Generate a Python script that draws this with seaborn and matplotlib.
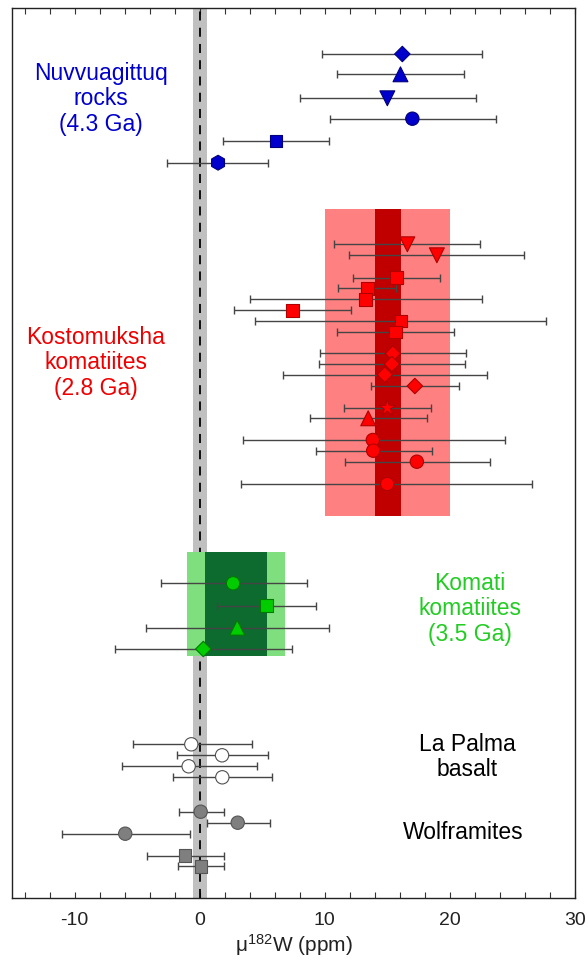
import matplotlib
matplotlib.use("Agg")
import matplotlib.pyplot as plt
from matplotlib.ticker import MultipleLocator
import numpy as np
import pandas as pd
import seaborn as sns

# ---------------- data ----------------
nuv_val = [16.2, 16.05, 15.0, 17.0, 6.1, 1.47]
nuv_lo = [9.8, 11.0, 8.0, 10.45, 1.9, -2.6]
nuv_hi = [22.6, 21.1, 22.1, 23.7, 10.35, 5.5]
nuv_shape = ["diamond", "tri_up", "tri_down", "circle", "square", "hexagon"]
nuv_row = [54, 74.3, 98.3, 118.7, 141, 162.7]

kos_val = [16.6, 18.96, 15.76, 13.4, 13.28, 7.4, 16.1, 15.68, 15.44, 15.36,
           14.8, 17.2, 15.0, 13.47, 13.84, 13.87, 17.36, 14.99]
kos_lo = [10.75, 11.95, 12.24, 11.07, 4.03, 2.77, 4.45, 11.0, 9.65, 9.57,
          6.7, 13.73, 11.55, 8.85, 3.47, 9.31, 11.63, 3.33]
kos_hi = [22.4, 25.9, 19.2, 15.7, 22.6, 12.08, 27.7, 20.3, 21.26, 21.2,
          22.96, 20.69, 18.5, 18.16, 24.37, 18.6, 23.23, 26.6]
kos_shape = ["tri_down", "tri_down", "square", "square", "square", "square",
             "square", "square", "diamond", "diamond", "diamond", "diamond",
             "star", "tri_up", "circle", "circle", "circle", "circle"]
kos_row = [244.3, 255.3, 277.7, 288.3, 299.3, 310.3, 321, 332, 353.5, 364,
           374.7, 386, 408, 418.3, 440, 450.7, 461.7, 484]
kos_band_outer = (10.0, 20.0)
kos_band_inner = (14.0, 16.1)
kos_band_rows = (209, 516)

kom_val = [2.67, 5.33, 3.0, 0.29]
kom_lo = [-3.07, 1.39, -4.27, -6.77]
kom_hi = [8.56, 9.33, 10.32, 7.39]
kom_shape = ["circle", "square", "tri_up", "diamond"]
kom_row = [583.3, 605.7, 627.7, 649]
kom_band_outer = (-1.0, 6.85)
kom_band_inner = (0.45, 5.4)
kom_band_rows = (552, 656)

lap_val = [-0.67, 1.79, -0.88, 1.81]
lap_lo = [-5.33, -1.84, -6.24, -2.1]
lap_hi = [4.16, 5.47, 4.56, 5.81]
lap_shape = ["circle", "circle", "circle", "circle"]
lap_row = [744.3, 755.3, 766.3, 777.3]

wol_val = [0.08, 3.04, -5.95, -1.17, 0.11]
wol_lo = [-1.68, 0.59, -11.0, -4.24, -1.76]
wol_hi = [1.95, 5.6, -0.77, 1.92, 1.92]
wol_shape = ["circle", "circle", "circle", "square", "square"]
wol_row = [811.7, 822.7, 833.7, 855.7, 866.3]

ref_band = (-0.5, 0.55)

xticks = [-10, 0, 10, 20, 30]
xlabel = r"μ$^{182}$W (ppm)"

# ---------------- style ----------------
sns.set_style("white")
plt.rcParams["font.family"] = ["Liberation Sans", "DejaVu Sans"]
plt.rcParams["mathtext.fontset"] = "custom"
plt.rcParams["mathtext.rm"] = "Liberation Sans"
plt.rcParams["mathtext.it"] = "Liberation Sans:italic"
plt.rcParams["axes.unicode_minus"] = False

marker_map = {"circle": "o", "square": "s", "diamond": "D", "tri_up": "^",
              "tri_down": "v", "star": "*", "hexagon": "h"}
size_map = {"circle": 92, "square": 84, "diamond": 62, "tri_up": 115,
            "tri_down": 115, "star": 150, "hexagon": 115}

fig = plt.figure(figsize=(5.88, 9.64), dpi=100)
ax = fig.add_axes([12 / 588, 1 - 898 / 964, (575 - 12) / 588, (898 - 8) / 964])

# reference band and zero line
ax.axvspan(ref_band[0], ref_band[1], color="#c0c0c0", lw=0, zorder=0)
ax.axvline(0, color="black", lw=1.3, ls=(0, (5, 4)), zorder=1)

# group bands
def band(outer, inner, rows, c_out, c_in):
    ax.fill_betweenx(rows, outer[0], outer[1], color=c_out, lw=0, zorder=2)
    ax.fill_betweenx(rows, inner[0], inner[1], color=c_in, lw=0, zorder=2.1)

band(kos_band_outer, kos_band_inner, kos_band_rows, "#ff8080", "#c00000")
band(kom_band_outer, kom_band_inner, kom_band_rows, "#7fdf7f", "#0d6b30")

groups = [
    (nuv_val, nuv_lo, nuv_hi, nuv_shape, nuv_row, "#0000cc", "#00007a"),
    (kos_val, kos_lo, kos_hi, kos_shape, kos_row, "#ff0000", "#b00000"),
    (kom_val, kom_lo, kom_hi, kom_shape, kom_row, "#00cc00", "#007a00"),
    (lap_val, lap_lo, lap_hi, lap_shape, lap_row, "white", "#505050"),
    (wol_val, wol_lo, wol_hi, wol_shape, wol_row, "#7f7f7f", "#555555"),
]

for val, lo, hi, shape, row, fc, ec in groups:
    v = np.array(val)
    xerr = [v - np.array(lo), np.array(hi) - v]
    ax.errorbar(v, row, xerr=xerr, fmt="none", ecolor="#454545",
                elinewidth=1.0, capsize=2.9, capthick=1.0, zorder=3)
    df = pd.DataFrame({"x": val, "y": row, "shape": shape})
    used = list(dict.fromkeys(shape))
    sns.scatterplot(data=df, x="x", y="y", style="shape", size="shape",
                    markers={k: marker_map[k] for k in used},
                    sizes={k: size_map[k] for k in used},
                    color=fc, edgecolor=ec, linewidth=0.8,
                    legend=False, ax=ax, zorder=5)

# group labels
tkw = dict(ha="center", va="center", fontsize=16.5, linespacing=1.15)
ax.text(-7.9, 99, "Nuvvuagittuq\nrocks\n(4.3 Ga)", color="#0000cc", **tkw)
ax.text(-8.3, 363, "Kostomuksha\nkomatiites\n(2.8 Ga)", color="#ee0000", **tkw)
ax.text(21.6, 609, "Komati\nkomatiites\n(3.5 Ga)", color="#22cc22", **tkw)
ax.text(21.4, 757, "La Palma\nbasalt", color="black", **tkw)
ax.text(21.1, 833, "Wolframites", color="black", **tkw)

# axes
ax.set_xlim(-15, 30)
ax.set_ylim(898, 8)
ax.set_yticks([])
ax.set_ylabel("")
ax.set_xticks(xticks)
ax.set_xticklabels([str(t) for t in xticks])
ax.xaxis.set_minor_locator(MultipleLocator(2))
ax.tick_params(axis="x", which="both", direction="in", top=True, bottom=True,
               length=4, width=0.8, color="#333333")
ax.tick_params(axis="x", which="major", labelsize=14, pad=10, labelcolor="#222222")
ax.set_xlabel(xlabel, fontsize=15, labelpad=2, color="#222222")
for s in ax.spines.values():
    s.set_visible(True)
    s.set_color("#222222")
    s.set_linewidth(1.0)

fig.savefig("out.png", dpi=100)
